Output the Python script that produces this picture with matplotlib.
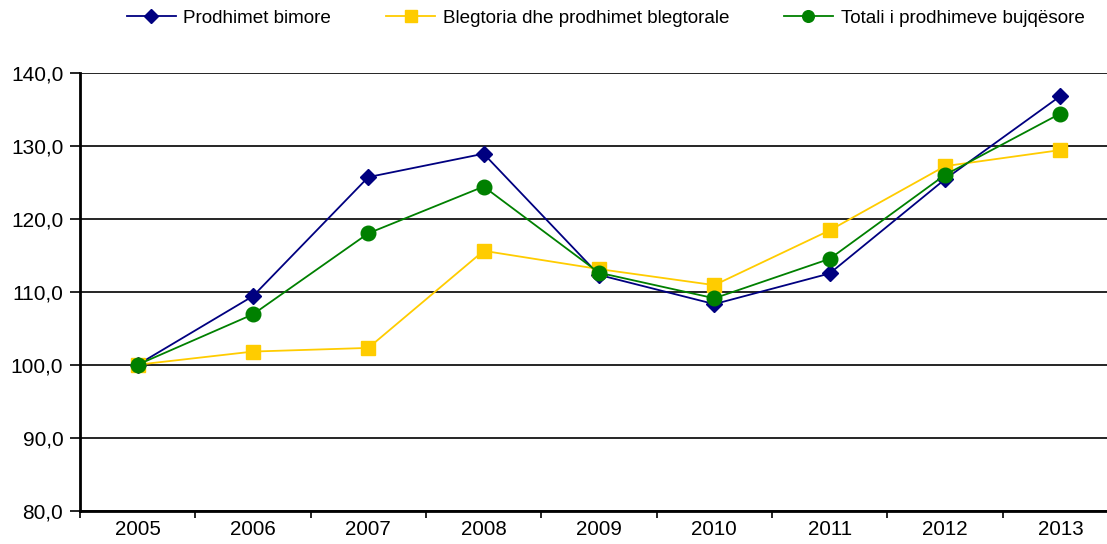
import matplotlib
matplotlib.use("Agg")
import matplotlib.pyplot as plt
from matplotlib.ticker import FixedLocator, FuncFormatter

years = ["2005", "2006", "2007", "2008", "2009", "2010", "2011", "2012", "2013"]
bimore = [100.0, 109.4, 125.7, 128.9, 112.3, 108.3, 112.5, 125.4, 136.8]
blegtoria = [100.0, 101.8, 102.3, 115.6, 113.1, 110.9, 118.4, 127.2, 129.4]
totali = [100.0, 106.9, 118.0, 124.4, 112.6, 109.1, 114.5, 126.0, 134.4]
labels = ["Prodhimet bimore", "Blegtoria dhe prodhimet blegtorale", "Totali i prodhimeve bujqësore"]

plt.rcParams['font.family'] = ['Liberation Sans', 'DejaVu Sans']

fig = plt.figure(figsize=(11.07, 5.44), dpi=100)
ax = fig.add_axes([80/1107, 33.3/544, 1038/1107, 438/544])

x = list(range(len(years)))
ax.plot(x, bimore, color="#000080", lw=1.3, marker="D", ms=8.5, label=labels[0], zorder=3)
ax.plot(x, blegtoria, color="#FFCC00", lw=1.3, marker="s", ms=10.5, label=labels[1], zorder=4)
ax.plot(x, totali, color="#008000", lw=1.3, marker="o", ms=10.5, label=labels[2], zorder=5)

ax.set_xlim(-0.5, len(years) - 0.5)
ax.set_ylim(80, 140)
ax.set_yticks([80, 90, 100, 110, 120, 130, 140])
ax.yaxis.set_major_formatter(FuncFormatter(lambda v, p: f"{v:.1f}".replace(".", ",")))
ax.set_xticks(x)
ax.set_xticklabels(years)
ax.xaxis.set_minor_locator(FixedLocator([i - 0.5 for i in range(len(years) + 1)]))
ax.tick_params(axis="x", which="major", length=0, pad=7, labelsize=14.8)
ax.tick_params(axis="x", which="minor", length=5, width=1.2, direction="out")
ax.tick_params(axis="y", length=7, width=1.2, direction="out", labelsize=15, pad=5)

ax.grid(axis="y", color="black", lw=1.2, zorder=1)
ax.set_axisbelow(True)
for s in ["top", "right"]:
    ax.spines[s].set_visible(False)
for s in ["left", "bottom"]:
    ax.spines[s].set_linewidth(2)
    ax.spines[s].set_zorder(6)

leg = fig.legend(loc="center", bbox_to_anchor=(0.547, 1 - 18/544), ncol=3, frameon=False,
                 fontsize=13.6, handlelength=2.6, handletextpad=0.4, columnspacing=2.9,
                 markerscale=0.8)

fig.savefig("out.png", dpi=100)
